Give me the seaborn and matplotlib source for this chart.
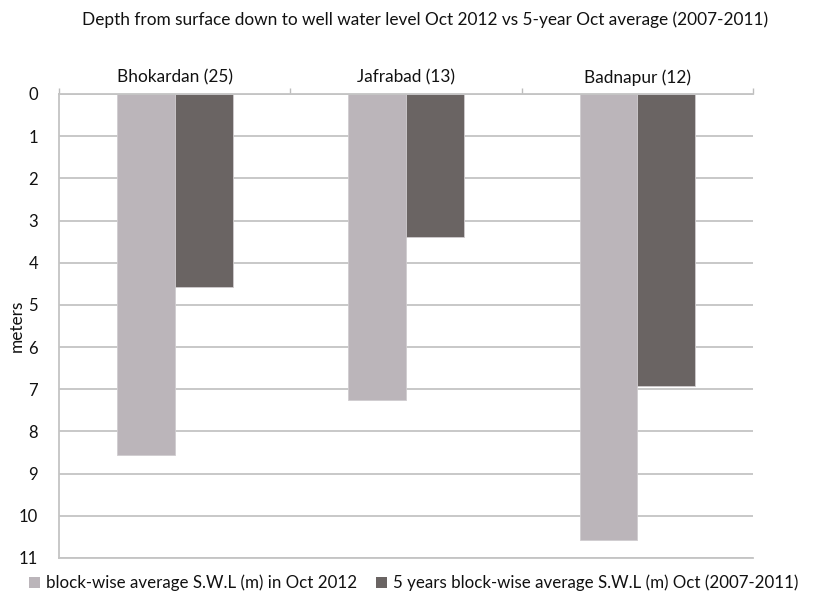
import matplotlib
matplotlib.use("Agg")
import matplotlib.pyplot as plt
from matplotlib.ticker import FixedLocator
import seaborn as sns
import pandas as pd

# Block names with number of observation wells
blocks = ["Bhokardan (25)", "Jafrabad (13)", "Badnapur (12)"]
series_names = [
    "block-wise average S.W.L (m) in Oct 2012",
    "5 years block-wise average S.W.L (m) Oct (2007-2011)",
]
swl_oct_2012 = [8.55, 7.25, 10.58]
swl_5yr_avg = [4.57, 3.40, 6.92]
depth_ticks = list(range(0, 12))

colors = ["#bbb5ba", "#6a6463"]
grid_color = "#c4c4c4"
text_color = "#111111"

df = pd.DataFrame({
    "block": blocks * 2,
    "series": [series_names[0]] * 3 + [series_names[1]] * 3,
    "depth": swl_oct_2012 + swl_5yr_avg,
})

sns.set_theme(style="white")
plt.rcParams["font.family"] = ["Lato", "DejaVu Sans"]

fig = plt.figure(figsize=(8.17, 6.02), dpi=100)
ax = fig.add_axes([59 / 817, 1 - 558 / 602, (753 - 59) / 817, (558 - 94) / 602])

sns.barplot(
    data=df, x="block", y="depth", hue="series", order=blocks,
    hue_order=series_names, palette=colors, width=0.5, saturation=1,
    edgecolor="#d0cccf", linewidth=0.6, ax=ax, legend=False,
)

ax.set_ylim(11, 0)
ax.set_xlim(-0.5, 2.5)
ax.set_yticks(depth_ticks)
ax.set_yticklabels([str(t) for t in depth_ticks], fontsize=12, color=text_color)
ax.yaxis.grid(True, color=grid_color, linewidth=1.3)
ax.set_axisbelow(True)

# category labels along the top, with small boundary ticks
ax.xaxis.tick_top()
ax.set_xlabel("")
ax.tick_params(axis="x", which="major", length=0, labelsize=12.4, pad=6, labelcolor=text_color)
ax.xaxis.set_minor_locator(FixedLocator([-0.5, 0.5, 1.5, 2.5]))
ax.tick_params(axis="x", which="minor", top=True, bottom=False, length=4, width=1,
               color="#bdbdbd", direction="out")
ax.tick_params(axis="y", length=0, pad=15)

ax.spines["right"].set_visible(False)
for side in ["top", "left", "bottom"]:
    ax.spines[side].set_color(grid_color)
    ax.spines[side].set_linewidth(1.3)

ax.set_ylabel("meters", fontsize=12.4, color=text_color)
ax.yaxis.set_label_coords(-0.049, 0.5)

fig.text(0.52, 1 - 20 / 602,
         "Depth from surface down to well water level Oct 2012 vs 5-year Oct average (2007-2011)",
         ha="center", va="center", fontsize=12.45, color=text_color)

handles = [plt.Rectangle((0, 0), 1, 1, facecolor=c, edgecolor="none") for c in colors]
fig.legend(handles, series_names, loc="center left", bbox_to_anchor=(24 / 817, 1 - 583 / 602),
           ncol=2, frameon=False, fontsize=12.2, handlelength=0.65, handleheight=0.65,
           handletextpad=0.35, columnspacing=1.1, labelcolor=text_color,
           borderaxespad=0, borderpad=0.3)

fig.savefig("out.png", dpi=100)
